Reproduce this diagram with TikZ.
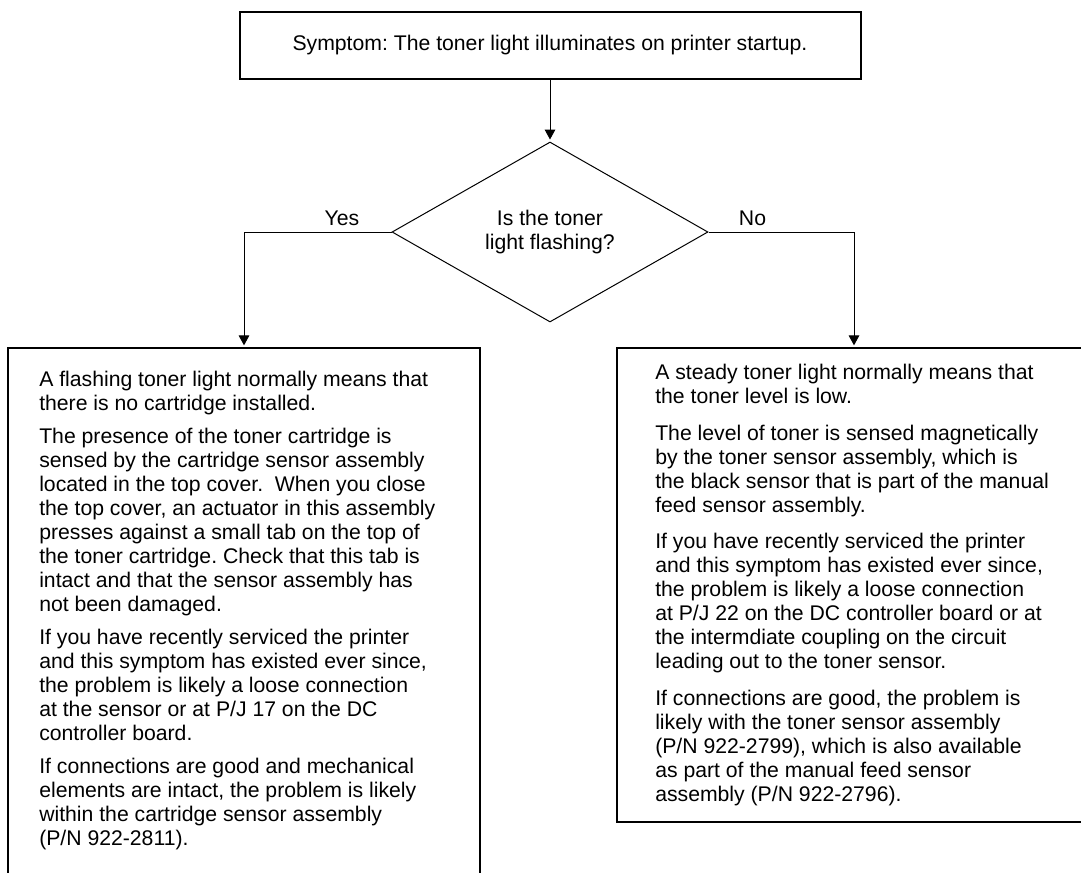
\documentclass[tikz,border=0pt]{standalone}
\usepackage{fontspec}
\setmainfont{Liberation Sans}
\usetikzlibrary{shapes.geometric,arrows.meta,fit}
\frenchspacing

\begin{document}
\begin{tikzpicture}[x=0.75pt, y=-0.75pt,
  every node/.style={font=\fontsize{15.9}{18}\selectfont, inner sep=0pt},
  topbox/.style={draw, line width=1.5pt, minimum width=465.75pt, minimum height=50.25pt},
  query/.style={draw, diamond, line width=0.75pt, aspect=1.76, minimum width=237pt, minimum height=135pt, align=center},
  panel/.style={draw, line width=1pt},
  para/.style={align=left, anchor=north west},
  arr/.style={line width=0.75pt, -{Triangle[width=8pt, length=7.5pt]}, shorten >=1.5pt}]
\useasboundingbox (0,0) rectangle (1081,872);
% --- symptom and question ---
\node[topbox] (symptom) at (550,45.5) {Symptom: The toner light illuminates on printer startup.};
\node[query]  (query)   at (550,232)  {Is the toner\\light flashing?};
\node[anchor=base] (yes) at (342,225.7)   {Yes};
\node[anchor=base] (no)  at (752.5,225.7) {No};
% --- answer panels ---
\node[panel, fit={(8,348) (480,885)}]   (yesbox) {};
\node[panel, fit={(617,348) (1091,822)}] (nobox)  {};
\node[para] (yestext) at (39,371) {A flashing toner light normally means that\\
  there is no cartridge installed.\\[6.75pt]
  The presence of the toner cartridge is\\
  sensed by the cartridge sensor assembly\\
  located in the top cover.\ \ When you close\\
  the top cover, an actuator in this assembly\\
  presses against a small tab on the top of\\
  the toner cartridge. Check that this tab is\\
  intact and that the sensor assembly has\\
  not been damaged.\\[6.75pt]
  If you have recently serviced the printer\\
  and this symptom has existed ever since,\\
  the problem is likely a loose connection\\
  at the sensor or at P/J 17 on the DC\\
  controller board.\\[6.75pt]
  If connections are good and mechanical\\
  elements are intact, the problem is likely\\
  within the cartridge sensor assembly\\
  (P/N 922-2811).};
\node[para] (notext) at (655,364) {A steady toner light normally means that\\
  the toner level is low.\\[9.5pt]
  The level of toner is sensed magnetically\\
  by the toner sensor assembly, which is\\
  the black sensor that is part of the manual\\
  feed sensor assembly.\\[9.5pt]
  If you have recently serviced the printer\\
  and this symptom has existed ever since,\\
  the problem is likely a loose connection\\
  at P/J 22 on the DC controller board or at\\
  the intermdiate coupling on the circuit\\
  leading out to the toner sensor.\\[9.5pt]
  If connections are good, the problem is\\
  likely with the toner sensor assembly\\
  (P/N 922-2799), which is also available\\
  as part of the manual feed sensor\\
  assembly (P/N 922-2796).};
% --- connectors ---
\draw[arr] (symptom) -- (query);
\draw[arr] (query.west) -| (yesbox.north);
\draw[arr] (query.east) -| (nobox.north);
\end{tikzpicture}
\end{document}
